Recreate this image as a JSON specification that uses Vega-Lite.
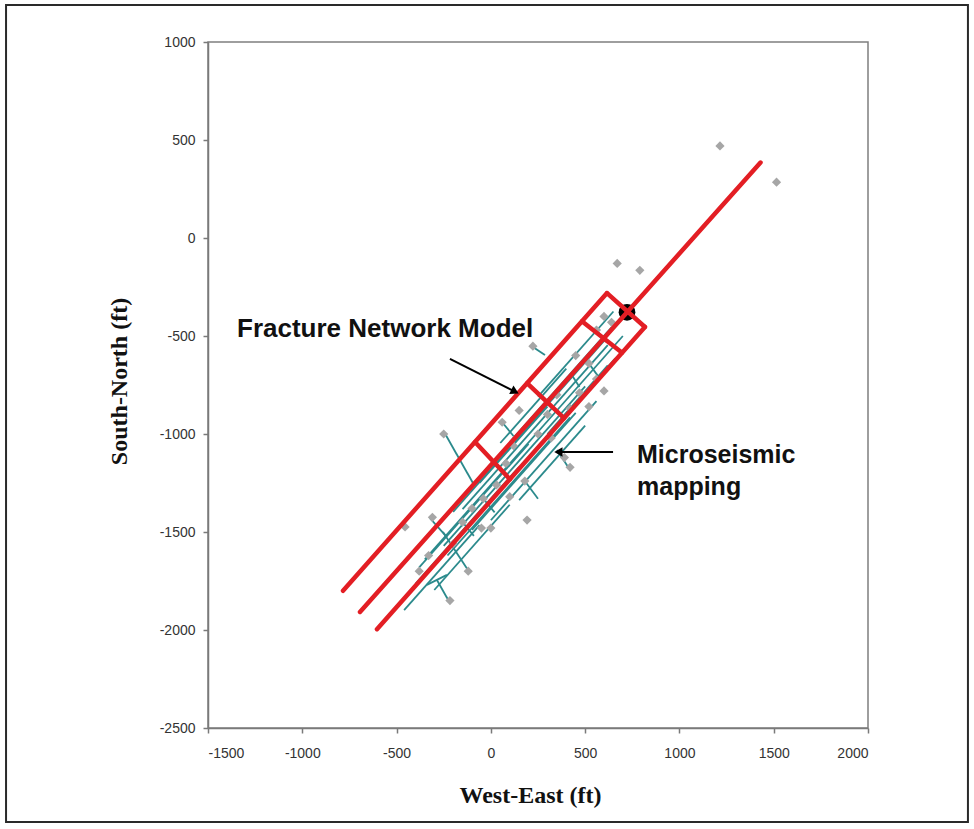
{
  "$schema": "https://vega.github.io/schema/vega-lite/v6.json",
  "width": 660,
  "height": 686,
  "autosize": "none",
  "padding": {"left": 208, "top": 42, "right": 106, "bottom": 101},
  "background": "white",
  "datasets": {
    "modelLines": [
      {"x": -784, "y": -1800, "x2": 616, "y2": -281},
      {"x": -694, "y": -1908, "x2": 1430, "y2": 385},
      {"x": -604, "y": -1996, "x2": 817, "y2": -454},
      {"x": 616, "y": -281, "x2": 817, "y2": -454},
      {"x": 483, "y": -425, "x2": 696, "y2": -585},
      {"x": 192, "y": -741, "x2": 388, "y2": -919},
      {"x": -84, "y": -1041, "x2": 101, "y2": -1231}
    ],
    "microseismic": [
      {"x": -460, "y": -1899, "x2": -60, "y2": -1465},
      {"x": -400, "y": -1764, "x2": 150, "y2": -1167},
      {"x": -350, "y": -1640, "x2": 350, "y2": -880},
      {"x": -250, "y": -1571, "x2": 500, "y2": -757},
      {"x": -150, "y": -1383, "x2": 620, "y2": -547},
      {"x": -100, "y": -1489, "x2": 450, "y2": -892},
      {"x": 0, "y": -1440, "x2": 560, "y2": -832},
      {"x": 100, "y": -1041, "x2": 640, "y2": -456},
      {"x": 250, "y": -809, "x2": 650, "y2": -375},
      {"x": 150, "y": -1337, "x2": 500, "y2": -957},
      {"x": -300, "y": -1796, "x2": 100, "y2": -1361},
      {"x": 350, "y": -880, "x2": 700, "y2": -500},
      {"x": -200, "y": -1397, "x2": 250, "y2": -909},
      {"x": 400, "y": -896, "x2": 660, "y2": -614},
      {"x": 50, "y": -1046, "x2": 400, "y2": -666},
      {"x": -380, "y": -1680, "x2": 200, "y2": -1050},
      {"x": -230, "y": -1620, "x2": 420, "y2": -915},
      {"x": 200, "y": -960, "x2": 600, "y2": -525},
      {"x": 300, "y": -1000, "x2": 620, "y2": -650},
      {"x": -60, "y": -1250, "x2": 300, "y2": -860},
      {"x": -245, "y": -995, "x2": -95, "y2": -1250},
      {"x": -339, "y": -1770, "x2": -233, "y2": -1719},
      {"x": -286, "y": -1745, "x2": -217, "y2": -1862},
      {"x": -323, "y": -1429, "x2": -233, "y2": -1526},
      {"x": -254, "y": -1500, "x2": -111, "y2": -1709},
      {"x": 223, "y": -556, "x2": 287, "y2": -597},
      {"x": 351, "y": -1082, "x2": 420, "y2": -1184},
      {"x": 180, "y": -1240, "x2": 250, "y2": -1330},
      {"x": 520, "y": -640, "x2": 580, "y2": -720},
      {"x": 560, "y": -470, "x2": 610, "y2": -530},
      {"x": 60, "y": -940, "x2": 120, "y2": -1010},
      {"x": -40, "y": -1330, "x2": 20, "y2": -1400},
      {"x": 430, "y": -700, "x2": 470, "y2": -760},
      {"x": -150, "y": -1450, "x2": -90, "y2": -1520}
    ],
    "events": [
      {"x": 1215, "y": 470}, {"x": 1515, "y": 285}, {"x": 670, "y": -130}, {"x": 790, "y": -165},
      {"x": -250, "y": -1000}, {"x": -455, "y": -1474}, {"x": 192, "y": -1439}, {"x": -120, "y": -1700},
      {"x": -217, "y": -1850}, {"x": -310, "y": -1425}, {"x": 0, "y": -1480}, {"x": 223, "y": -552},
      {"x": 420, "y": -1170}, {"x": 390, "y": -1120}, {"x": 600, "y": -400}, {"x": 640, "y": -430},
      {"x": 560, "y": -470}, {"x": 520, "y": -640}, {"x": 560, "y": -720}, {"x": 470, "y": -790},
      {"x": 420, "y": -870}, {"x": 350, "y": -800}, {"x": 300, "y": -900}, {"x": 250, "y": -1000},
      {"x": 120, "y": -1060}, {"x": 80, "y": -1150}, {"x": 30, "y": -1260}, {"x": -40, "y": -1330},
      {"x": -100, "y": -1380}, {"x": -150, "y": -1450}, {"x": -50, "y": -1480}, {"x": 100, "y": -1320},
      {"x": 180, "y": -1240}, {"x": 320, "y": -1020}, {"x": 520, "y": -860}, {"x": 600, "y": -780},
      {"x": -330, "y": -1620}, {"x": -380, "y": -1700}, {"x": -200, "y": -1560}, {"x": 150, "y": -880},
      {"x": 60, "y": -940}, {"x": 450, "y": -600}
    ],
    "well": [{"x": 722, "y": -379}],
    "arrows": [
      {"x": -217, "y": -617, "x2": 125, "y2": -782},
      {"x": 648, "y": -1092, "x2": 361, "y2": -1092}
    ],
    "frame": [{"x": -2571, "y": 1189, "x2": 2530, "y2": -2980}]
  },
  "encoding": {
    "x": {
      "field": "x", "type": "quantitative", "title": "West-East (ft)",
      "scale": {"domain": [-1500, 2000], "nice": false, "zero": false},
      "axis": {"values": [-1500, -1000, -500, 0, 500, 1000, 1500, 2000], "labelExpr": "'' + datum.value"}
    },
    "y": {
      "field": "y", "type": "quantitative", "title": "South-North (ft)",
      "scale": {"domain": [-2500, 1000], "nice": false, "zero": false},
      "axis": {"values": [-2500, -2000, -1500, -1000, -500, 0, 500, 1000], "labelExpr": "'' + datum.value"}
    }
  },
  "layer": [
    {
      "data": {"name": "frame"},
      "mark": {"type": "rect", "fill": "white", "fillOpacity": 0, "stroke": "#2a2a2a", "strokeWidth": 2, "clip": false},
      "encoding": {"x2": {"field": "x2"}, "y2": {"field": "y2"}}
    },
    {
      "data": {"name": "microseismic"},
      "mark": {"type": "rule", "color": "#2b8a8c", "strokeWidth": 1.8},
      "encoding": {"x2": {"field": "x2"}, "y2": {"field": "y2"}}
    },
    {
      "data": {"name": "events"},
      "mark": {"type": "point", "shape": "diamond", "filled": true, "color": "#a6a6a6", "size": 85, "opacity": 1}
    },
    {
      "data": {"name": "well"},
      "mark": {"type": "point", "shape": "circle", "filled": true, "color": "#000000", "size": 280, "opacity": 1}
    },
    {
      "data": {"name": "modelLines"},
      "mark": {"type": "rule", "color": "#e31e24", "strokeWidth": 4.5, "strokeCap": "round"},
      "encoding": {"x2": {"field": "x2"}, "y2": {"field": "y2"}}
    },
    {
      "data": {"name": "arrows"},
      "mark": {"type": "rule", "color": "#000000", "strokeWidth": 2},
      "encoding": {"x2": {"field": "x2"}, "y2": {"field": "y2"}}
    },
    {
      "data": {"values": [{"x": 128, "y": -784}]},
      "mark": {"type": "point", "shape": "triangle-right", "angle": 26.6, "filled": true, "color": "#000000", "size": 90, "opacity": 1}
    },
    {
      "data": {"values": [{"x": 358, "y": -1092}]},
      "mark": {"type": "point", "shape": "triangle-left", "filled": true, "color": "#000000", "size": 90, "opacity": 1}
    },
    {
      "data": {"values": [{"x": -1346, "y": -505, "label": "Fracture Network Model"}]},
      "mark": {"type": "text", "align": "left", "baseline": "alphabetic", "font": "Liberation Sans", "fontWeight": "bold", "fontSize": 26, "color": "#111111"},
      "encoding": {"text": {"field": "label"}}
    },
    {
      "data": {"values": [{"x": 775, "y": -1148, "label": "Microseismic\nmapping"}]},
      "mark": {"type": "text", "align": "left", "baseline": "alphabetic", "font": "Liberation Sans", "fontWeight": "bold", "fontSize": 25, "lineHeight": 32, "lineBreak": "\n", "color": "#111111"},
      "encoding": {"text": {"field": "label"}}
    }
  ],
  "config": {
    "view": {"stroke": "#7f7f7f", "strokeWidth": 1.5},
    "axis": {
      "grid": false,
      "domainColor": "#7a7a7a",
      "domainWidth": 1.5,
      "tickColor": "#7a7a7a",
      "tickWidth": 1.5,
      "tickSize": 5,
      "labelFont": "Liberation Sans",
      "labelFontSize": 14,
      "labelColor": "#333333",
      "titleFont": "Liberation Serif",
      "titleFontWeight": "bold",
      "titleFontSize": 24,
      "titleColor": "#111111"
    },
    "axisX": {"labelPadding": 13, "titleX": 322, "titleY": 67, "titleBaseline": "middle", "titleAlign": "center"},
    "axisY": {"labelPadding": 8, "titleX": -89, "titleY": 339, "titleAngle": -90, "titleBaseline": "middle", "titleAlign": "center"}
  }
}
